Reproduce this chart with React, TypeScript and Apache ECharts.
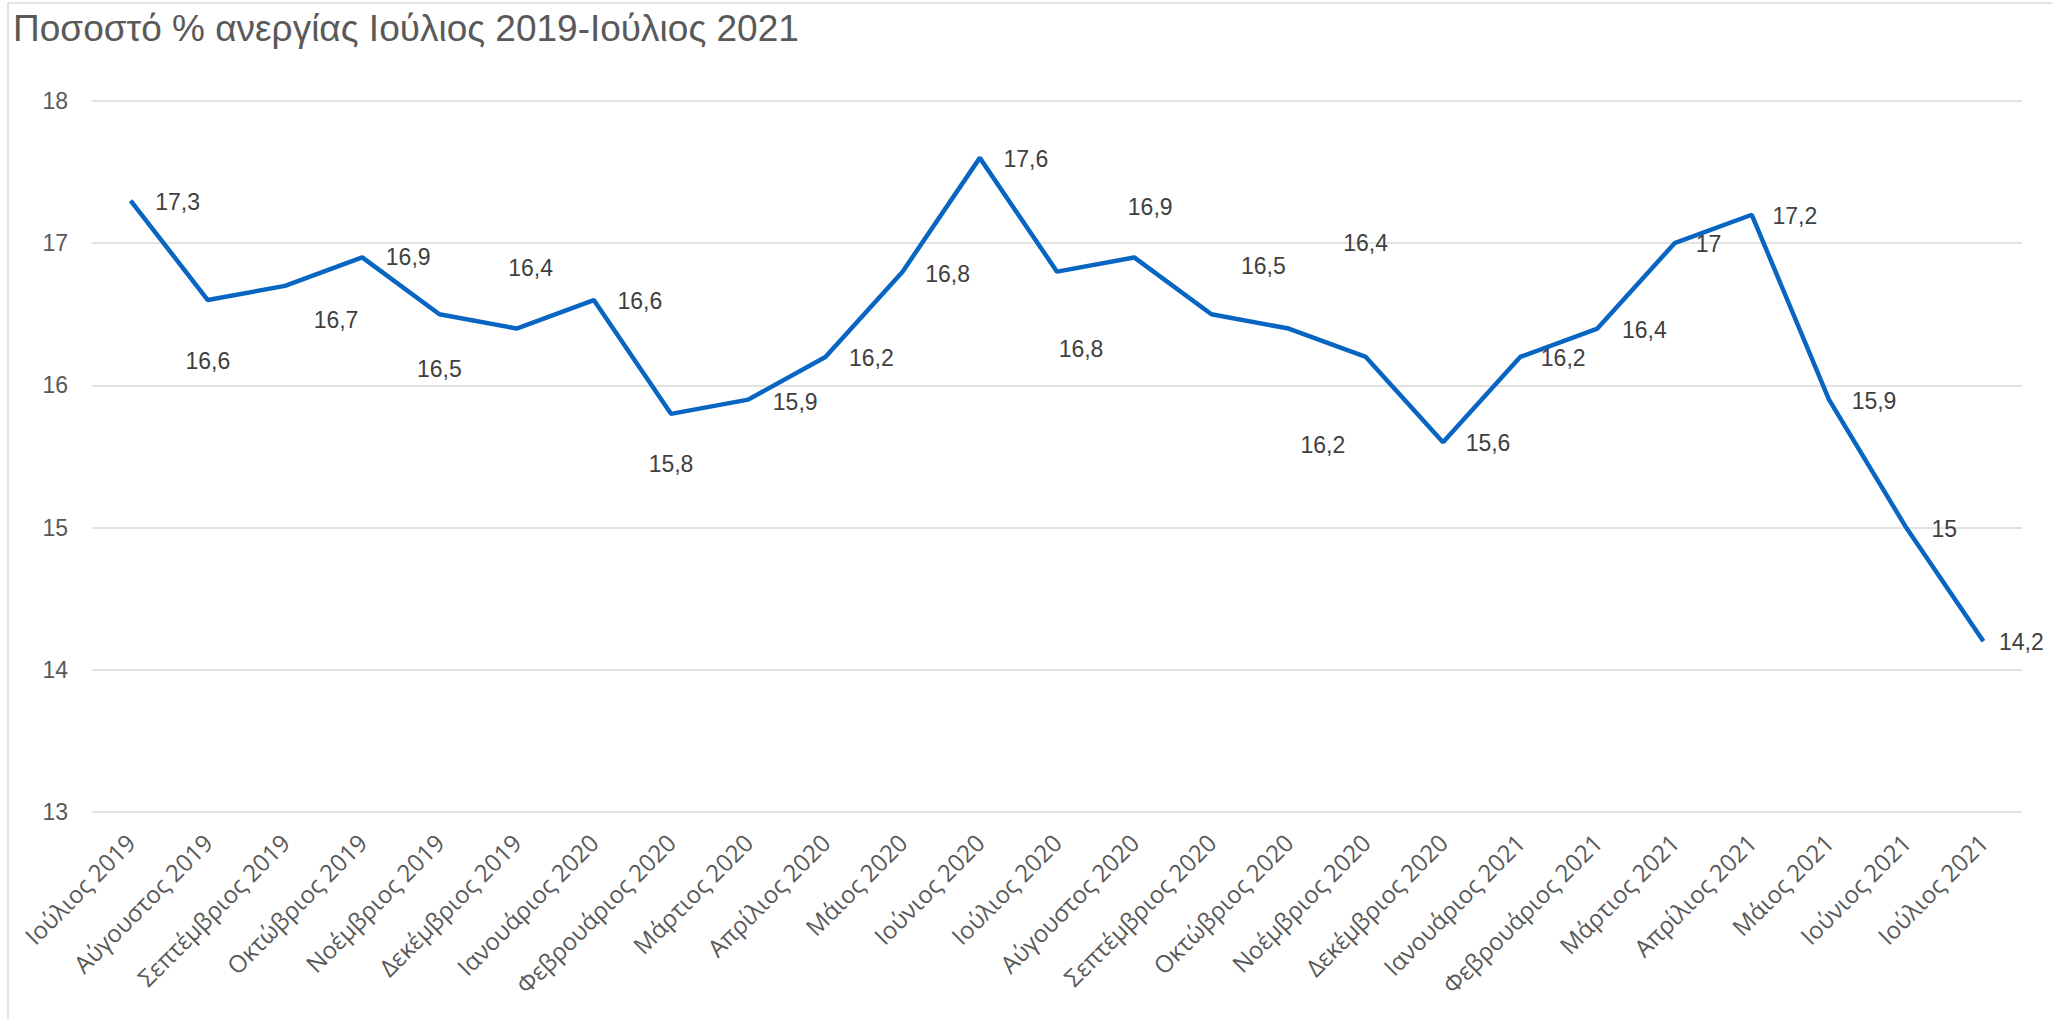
import React, { useEffect, useRef } from "react";
import * as echarts from "echarts";

const categories = [
  "Ιούλιος 2019", "Αύγουστος 2019", "Σεπτέμβριος 2019", "Οκτώβριος 2019", "Νοέμβριος 2019",
  "Δεκέμβριος 2019", "Ιανουάριος 2020", "Φεβρουάριος 2020", "Μάρτιος 2020", "Απρίλιος 2020",
  "Μάιος 2020", "Ιούνιος 2020", "Ιούλιος 2020", "Αύγουστος 2020", "Σεπτέμβριος 2020",
  "Οκτώβριος 2020", "Νοέμβριος 2020", "Δεκέμβριος 2020", "Ιανουάριος 2021", "Φεβρουάριος 2021",
  "Μάρτιος 2021", "Απρίλιος 2021", "Μάιος 2021", "Ιούνιος 2021", "Ιούλιος 2021",
];

const unemployment = [
  17.3, 16.6, 16.7, 16.9, 16.5, 16.4, 16.6, 15.8, 15.9, 16.2, 16.8, 17.6, 16.8,
  16.9, 16.5, 16.4, 16.2, 15.6, 16.2, 16.4, 17.0, 17.2, 15.9, 15.0, 14.2,
];

const yTicks = { min: 13, max: 18, interval: 1 };

const titleText = "Ποσοστό % ανεργίας Ιούλιος 2019-Ιούλιος 2021";

// label offsets (style): [dx, dy] in px from each point
const labelOffsets: [number, number][] = [
  [47, 1], [0, 61], [51, 34], [46, 0], [0, 55], [14, -61], [46, 1], [0, 50],
  [47, 2], [46, 1], [45, 2], [46, 1], [24, 77], [16, -50], [52, -48], [77, -86],
  [-43, 88], [45, 1], [43, 1], [47, 1], [34, 1], [43, 1], [45, 1], [38, 1], [38, 1],
];

const fmt = (v: number) => String(v).replace(".", ",");

export default function App() {
  const ref = useRef<HTMLDivElement>(null);
  useEffect(() => {
    if (!ref.current) return;
    const chart = echarts.init(ref.current, undefined, { renderer: "svg" });
    const font = "'Liberation Sans', Arial, sans-serif";
    chart.setOption({
      animation: false,
      backgroundColor: "#ffffff",
      textStyle: { fontFamily: font },
      title: {
        text: titleText,
        left: 8,
        top: 5,
        textStyle: { fontFamily: font, fontSize: 37, fontWeight: "normal", color: "#595959" },
      },
      graphic: [
        {
          type: "rect",
          shape: { x: 8, y: 3, width: 2100, height: 1100 },
          style: { fill: "none", stroke: "#d9d9d9", lineWidth: 1.5 },
          silent: true,
          z: -1,
        },
      ],
      grid: { left: 92, right: 30, top: 101, bottom: 207, containLabel: false },
      xAxis: {
        type: "category",
        data: categories,
        boundaryGap: true,
        axisLine: { show: false },
        axisTick: { show: false },
        axisLabel: {
          rotate: 45,
          interval: 0,
          margin: 26,
          fontSize: 24,
          color: "#595959",
          fontFamily: "'Open Sans', sans-serif",
        },
      },
      yAxis: {
        type: "value",
        min: yTicks.min,
        max: yTicks.max,
        interval: yTicks.interval,
        axisLine: { show: false },
        axisTick: { show: false },
        axisLabel: { fontSize: 23, color: "#595959", margin: 24, fontFamily: font },
        splitLine: { lineStyle: { color: "#d9d9d9", width: 1.5 } },
      },
      series: [
        {
          type: "line",
          data: unemployment.map((v, i) => ({
            value: v,
            label: { offset: labelOffsets[i] },
          })),
          symbol: "circle",
          symbolSize: 1,
          showSymbol: true,
          itemStyle: { color: "transparent" },
          lineStyle: { color: "#0866c2", width: 4.5 },
          label: {
            show: true,
            position: "inside",
            fontSize: 23,
            color: "#404040",
            fontFamily: font,
            formatter: (p: any) => fmt(p.value),
          },
        },
      ],
    });
    return () => chart.dispose();
  }, []);
  return (
    <div
      ref={ref}
      style={{ position: "fixed", left: 0, top: 0, width: 2052, height: 1019 }}
    />
  );
}
